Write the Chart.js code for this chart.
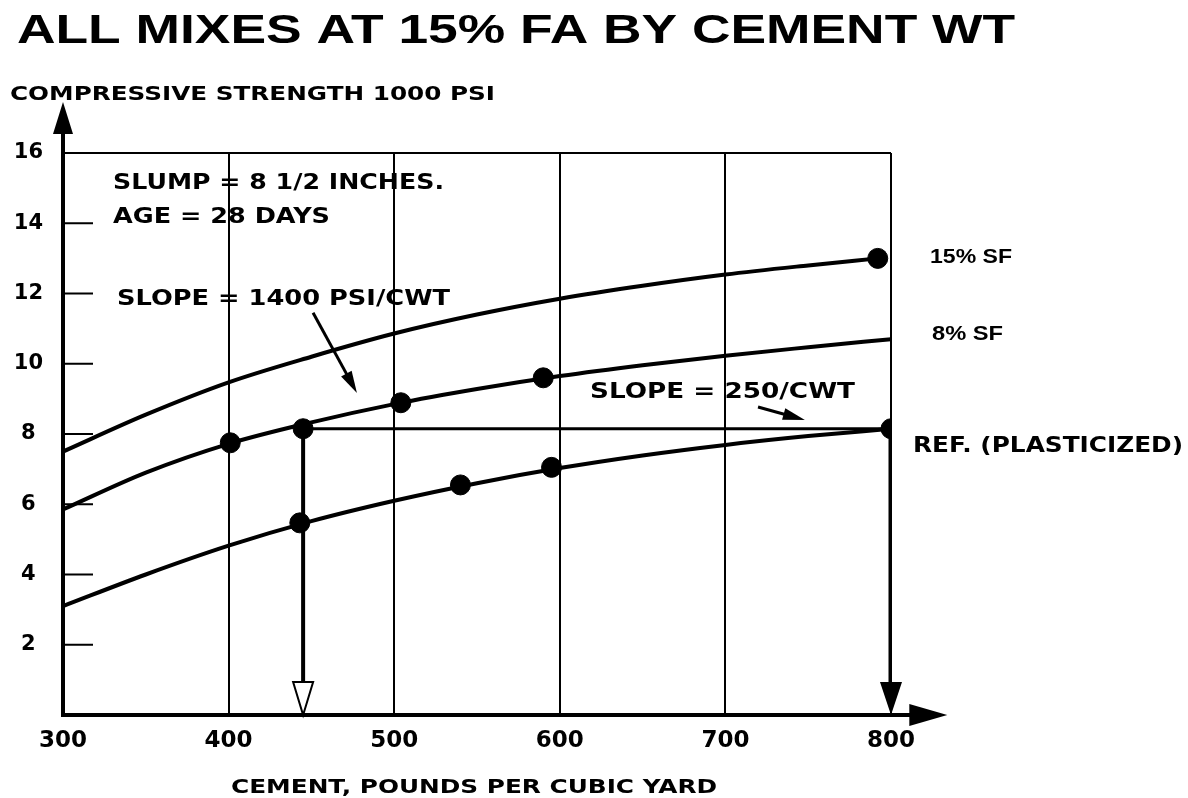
<!DOCTYPE html>
<html>
<head>
<meta charset="utf-8">
<script src="https://cdn.jsdelivr.net/npm/chart.js@4"></script>
<style>
  html, body { margin: 0; padding: 0; background: #fff; }
</style>
</head>
<body>
<canvas id="chart" width="1188" height="798"></canvas>
<script>
// cement content (lb per cubic yard) -> compressive strength (1000 psi)
const sf15X = [300, 350, 400, 450, 500, 550, 600, 650, 700, 750, 792];
const sf15Y = [7.5, 8.55, 9.47, 10.2, 10.86, 11.4, 11.85, 12.22, 12.54, 12.8, 13.0];

const sf8X = [300, 350, 400, 450, 500, 550, 600, 650, 700, 750, 800];
const sf8Y = [5.85, 6.9, 7.72, 8.33, 8.85, 9.28, 9.65, 9.96, 10.23, 10.47, 10.7];

const refX = [300, 350, 400, 450, 500, 550, 600, 650, 700, 750, 800];
const refY = [3.1, 4.0, 4.82, 5.52, 6.1, 6.6, 7.03, 7.39, 7.69, 7.94, 8.15];

// measured points
const sf15PtX = [792];
const sf15PtY = [13.0];
const sf8PtX = [401, 445, 504, 590];
const sf8PtY = [7.75, 8.15, 8.89, 9.6];
const refPtX = [443, 540, 595, 800];
const refPtY = [5.47, 6.55, 7.05, 8.15];

// horizontal equal-strength line and the two drop lines
const eqX = [445, 800];
const eqY = [8.15, 8.15];

const xTicks = [300, 400, 500, 600, 700, 800];
const yTicks = [0, 2, 4, 6, 8, 10, 12, 14, 16];

function pts(xs, ys) {
  return xs.map((x, i) => ({ x: x, y: ys[i] }));
}

const boldWide = "'DejaVu Sans', sans-serif";

// texts drawn on top; stretched to the widths of the original lettering
const labels = [
  { t: 'ALL MIXES AT 15% FA BY CEMENT WT', x: 17, y: 43, w: 998, f: "bold 41px 'Liberation Sans', Arial, sans-serif" },
  { t: 'COMPRESSIVE STRENGTH 1000 PSI', x: 10, y: 100, w: 485, f: 'bold 20px ' + boldWide },
  { t: 'SLUMP = 8 1/2 INCHES.', x: 113, y: 189, w: 331, f: 'bold 22px ' + boldWide },
  { t: 'AGE = 28 DAYS', x: 113, y: 223, w: 217, f: 'bold 22px ' + boldWide },
  { t: 'SLOPE = 1400 PSI/CWT', x: 117, y: 305, w: 333, f: 'bold 22px ' + boldWide },
  { t: 'SLOPE = 250/CWT', x: 590, y: 398, w: 265, f: 'bold 22px ' + boldWide },
  { t: '15% SF', x: 930, y: 263, w: 82, f: "bold 21px 'Liberation Sans', Arial, sans-serif" },
  { t: '8% SF', x: 932, y: 340, w: 71, f: "bold 21px 'Liberation Sans', Arial, sans-serif" },
  { t: 'REF. (PLASTICIZED)', x: 913, y: 452, w: 270, f: 'bold 22px ' + boldWide },
  { t: 'CEMENT, POUNDS PER CUBIC YARD', x: 231, y: 793, w: 486, f: 'bold 20px ' + boldWide }
];

// slope pointers, in data units
const pointers = [
  { x0: 451, y0: 11.45, x1: 477.5, y1: 9.17 },
  { x0: 719.7, y0: 8.77, x1: 748, y1: 8.4 }
];

function stretchText(ctx, l) {
  ctx.font = l.f;
  const w = ctx.measureText(l.t).width;
  ctx.save();
  ctx.translate(l.x, l.y);
  ctx.scale(l.w / w, 1);
  ctx.textAlign = 'left';
  ctx.textBaseline = 'alphabetic';
  ctx.fillText(l.t, 0, 0);
  ctx.restore();
}

function head(ctx, tx, ty, ang, len, half, fill) {
  ctx.save();
  ctx.translate(tx, ty);
  ctx.rotate(ang);
  ctx.beginPath();
  ctx.moveTo(0, 0);
  ctx.lineTo(-len, -half);
  ctx.lineTo(-len, half);
  ctx.closePath();
  if (fill) ctx.fill(); else { ctx.fillStyle = '#fff'; ctx.fill(); ctx.lineWidth = 2; ctx.stroke(); }
  ctx.restore();
}

const decor = {
  id: 'decor',
  afterDraw(chart) {
    const ctx = chart.ctx;
    const xs = chart.scales.x, ys = chart.scales.y;
    const X = v => xs.getPixelForValue(v);
    const Y = v => ys.getPixelForValue(v);
    ctx.save();
    ctx.strokeStyle = '#000';
    ctx.fillStyle = '#000';
    ctx.lineCap = 'butt';

    // axis arrows beyond the plot
    ctx.lineWidth = 4;
    ctx.beginPath();
    ctx.moveTo(X(300), Y(16));
    ctx.lineTo(X(300), Y(17.2));
    ctx.moveTo(X(800), Y(0));
    ctx.lineTo(X(820), Y(0));
    ctx.stroke();
    head(ctx, X(300), Y(17.45), -Math.PI / 2, 32, 10, true);
    head(ctx, X(834), Y(0), 0, 38, 11, true);

    // inner tick marks on the strength axis
    ctx.lineWidth = 2;
    ctx.beginPath();
    yTicks.filter(v => v > 0 && v < 16).forEach(v => {
      ctx.moveTo(X(300), Y(v));
      ctx.lineTo(X(300) + 30, Y(v));
    });
    ctx.stroke();

    // drop arrow heads
    head(ctx, X(eqX[0]), Y(0), Math.PI / 2, 33, 10, false);
    head(ctx, X(eqX[1]), Y(0), Math.PI / 2, 33, 11, true);

    // slope pointers
    ctx.lineWidth = 3;
    pointers.forEach(p => {
      const ax = X(p.x0), ay = Y(p.y0), bx = X(p.x1), by = Y(p.y1);
      const ang = Math.atan2(by - ay, bx - ax);
      ctx.beginPath();
      ctx.moveTo(ax, ay);
      ctx.lineTo(bx - 14 * Math.cos(ang), by - 14 * Math.sin(ang));
      ctx.stroke();
      head(ctx, bx, by, ang, 22, 6, true);
    });

    labels.forEach(l => stretchText(ctx, l));
    ctx.restore();
  }
};

const lineStyle = {
  type: 'line',
  borderColor: '#000',
  borderWidth: 4,
  pointRadius: 0,
  fill: false,
  cubicInterpolationMode: 'monotone'
};

const dotStyle = {
  type: 'scatter',
  backgroundColor: '#000',
  borderColor: '#000',
  pointRadius: 10,
  pointHoverRadius: 10,
  showLine: false
};

new Chart(document.getElementById('chart'), {
  data: {
    datasets: [
      Object.assign({ label: '15% SF', data: pts(sf15X, sf15Y) }, lineStyle),
      Object.assign({ label: '8% SF', data: pts(sf8X, sf8Y) }, lineStyle),
      Object.assign({ label: 'REF. (PLASTICIZED)', data: pts(refX, refY) }, lineStyle),
      Object.assign({}, lineStyle, { label: 'equal strength', data: pts(eqX, eqY), borderWidth: 3, cubicInterpolationMode: 'default' }),
      Object.assign({}, lineStyle, { label: 'drop 1', data: [{ x: eqX[0], y: eqY[0] }, { x: eqX[0], y: 0.9 }], borderWidth: 4, cubicInterpolationMode: 'default' }),
      Object.assign({}, lineStyle, { label: 'drop 2', data: [{ x: eqX[1], y: eqY[1] }, { x: eqX[1], y: 0.9 }], borderWidth: 5, cubicInterpolationMode: 'default' }),
      Object.assign({ label: '15% SF pts', data: pts(sf15PtX, sf15PtY) }, dotStyle),
      Object.assign({ label: '8% SF pts', data: pts(sf8PtX, sf8PtY) }, dotStyle),
      Object.assign({ label: 'REF pts', data: pts(refPtX, refPtY) }, dotStyle)
    ]
  },
  options: {
    responsive: false,
    animation: false,
    layout: { padding: { left: 0, top: 153, right: 297, bottom: 0 } },
    plugins: {
      legend: { display: false },
      title: { display: false },
      tooltip: { enabled: false }
    },
    scales: {
      x: {
        type: 'linear',
        min: 300,
        max: 800,
        afterBuildTicks: s => { s.ticks = xTicks.map(v => ({ value: v })); },
        afterFit: s => { s.height = 83; },
        ticks: {
          color: '#000',
          font: { family: boldWide, weight: 'bold', size: 23 },
          padding: 12,
          maxRotation: 0
        },
        grid: {
          color: c => (c.tick && c.tick.value > 300) ? '#000' : 'rgba(0,0,0,0)',
          lineWidth: 2,
          drawTicks: false
        },
        border: { color: '#000', width: 4 }
      },
      y: {
        min: 0,
        max: 16,
        afterBuildTicks: s => { s.ticks = yTicks.map(v => ({ value: v })); },
        afterFit: s => { s.width = 63; },
        ticks: {
          color: '#000',
          font: { family: boldWide, weight: 'bold', size: 21 },
          padding: 20,
          crossAlign: 'center',
          callback: v => (v === 0 ? '' : v)
        },
        grid: {
          color: c => (c.tick && c.tick.value === 16) ? '#000' : 'rgba(0,0,0,0)',
          lineWidth: 2,
          drawTicks: false
        },
        border: { color: '#000', width: 4 }
      }
    }
  },
  plugins: [decor]
});
</script>
</body>
</html>
